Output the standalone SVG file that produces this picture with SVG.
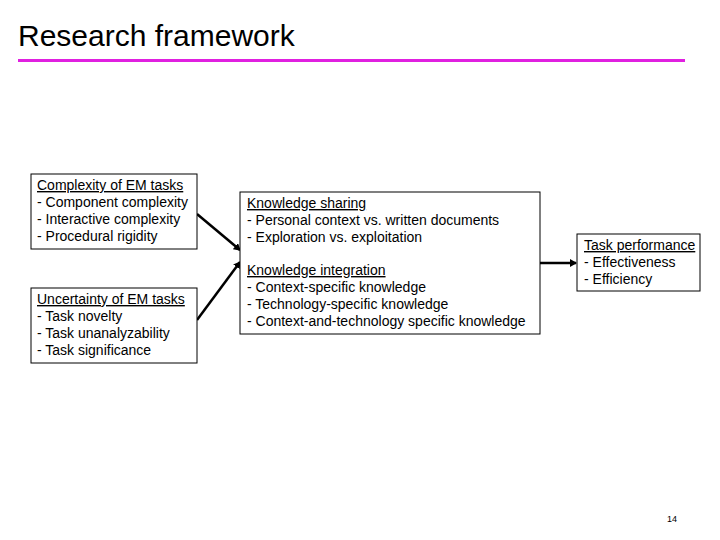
<svg xmlns="http://www.w3.org/2000/svg" width="720" height="540" viewBox="0 0 720 540">
<style>
.b{fill:#fff;stroke:#000;stroke-width:1}
.t{font-family:"Liberation Sans",Arial,sans-serif;font-size:14px;fill:#000}
.c{stroke:#000;stroke-width:2.5;fill:none;marker-end:url(#a)}
</style>
<defs><marker id="a" markerWidth="8" markerHeight="8" refX="6" refY="4" orient="auto" markerUnits="userSpaceOnUse"><path d="M0,0 L7,4 L0,8 z" fill="#000"/></marker></defs>
<rect width="720" height="540" fill="#fff"/>
<text x="18" y="46" font-family="Liberation Sans,Arial,sans-serif" font-size="30">Research framework</text>
<rect x="18" y="59" width="667" height="3" fill="#e020e0"/>
<g id="connectors">
<line class="c" x1="197" y1="214" x2="240" y2="250"/>
<line class="c" x1="197" y1="320" x2="240" y2="262"/>
<line class="c" x1="540" y1="263" x2="576" y2="263"/>
</g>
<g id="n1"><rect class="b" x="31" y="174" width="166" height="75"/>
<text class="t" x="37" y="190"><tspan text-decoration="underline">Complexity of EM tasks</tspan><tspan x="37" dy="17">- Component complexity</tspan><tspan x="37" dy="17">- Interactive complexity</tspan><tspan x="37" dy="17">- Procedural rigidity</tspan></text></g>
<g id="n2"><rect class="b" x="31" y="288" width="166" height="75"/>
<text class="t" x="37" y="304"><tspan text-decoration="underline">Uncertainty of EM tasks</tspan><tspan x="37" dy="17">- Task novelty</tspan><tspan x="37" dy="17">- Task unanalyzability</tspan><tspan x="37" dy="17">- Task significance</tspan></text></g>
<g id="n3"><rect class="b" x="240" y="192" width="300" height="142"/>
<text class="t" x="247" y="208"><tspan text-decoration="underline">Knowledge sharing</tspan><tspan x="247" dy="17">- Personal context vs. written documents</tspan><tspan x="247" dy="17">- Exploration vs. exploitation</tspan><tspan x="247" dy="33" text-decoration="underline">Knowledge integration</tspan><tspan x="247" dy="17">- Context-specific knowledge</tspan><tspan x="247" dy="17">- Technology-specific knowledge</tspan><tspan x="247" dy="17">- Context-and-technology specific knowledge</tspan></text></g>
<g id="n4"><rect class="b" x="577" y="234" width="123" height="57"/>
<text class="t" x="584" y="250"><tspan text-decoration="underline">Task performance</tspan><tspan x="584" dy="17">- Effectiveness</tspan><tspan x="584" dy="17">- Efficiency</tspan></text></g>
<text x="667" y="522" font-family="Liberation Sans,Arial,sans-serif" font-size="9">14</text>
</svg>
